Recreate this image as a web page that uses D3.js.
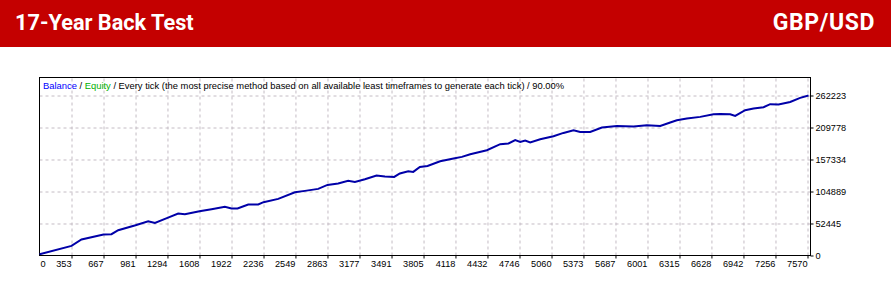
<!DOCTYPE html>
<html>
<head>
<meta charset="utf-8">
<script src="https://cdn.jsdelivr.net/npm/d3@7/dist/d3.min.js"></script>
<style>
  body { margin: 0; background: #fff; }
  svg { display: block; }
  .axis text { font-family: "Liberation Sans", Arial, sans-serif; font-size: 9.2px; fill: #000; }
  .axis .domain { display: none; }
  .axis line { stroke: #000; }
  .grid line { stroke: #c4bcc4; stroke-dasharray: 3,3; }
  .grid .domain { display: none; }
</style>
</head>
<body>
<svg id="chart" width="891" height="296"></svg>
<script>
// trade number / balance
const trades = [40, 353, 451, 667, 745, 811, 981, 1105, 1171, 1294, 1399, 1465, 1608, 1726, 1857, 1922,
  1981, 2086, 2184, 2236, 2380, 2544, 2642, 2772, 2863, 2968, 3066, 3132, 3230, 3344, 3426, 3517,
  3573, 3655, 3704, 3769, 3844, 3968, 4099, 4181, 4263, 4426, 4557, 4638, 4704, 4753, 4802, 4851,
  4949, 5079, 5177, 5276, 5341, 5439, 5554, 5701, 5864, 5995, 6126, 6224, 6289, 6387, 6518, 6648,
  6714, 6812, 6861, 6959, 7041, 7139, 7204, 7286, 7400, 7498, 7580];
const balance = [2100, 15700, 26200, 34400, 34900, 41500, 49700, 56200, 53400, 61600, 68800, 67700,
  72600, 75900, 79700, 77000, 77000, 83600, 83600, 87400, 92800, 103700, 105900, 109200, 115700,
  118000, 122300, 120600, 125000, 131100, 129500, 128800, 134400, 138200, 137000, 145200, 146800,
  154500, 159000, 161600, 166000, 172600, 182400, 183600, 189000, 186200, 188500, 185200, 190600,
  195500, 200900, 205400, 202600, 202600, 209800, 212400, 211400, 213500, 212400, 218000, 221700,
  224500, 227200, 231600, 232100, 231600, 228800, 238100, 240900, 243000, 248000, 247500, 251700,
  258300, 262223];

const xTicks = [353, 667, 981, 1294, 1608, 1922, 2236, 2549, 2863, 3177, 3491, 3805, 4118, 4432,
  4746, 5060, 5373, 5687, 6001, 6315, 6628, 6942, 7256, 7570];
const yTicks = [0, 52445, 104889, 157334, 209778, 262223];

const title = "17-Year Back Test";
const pair = "GBP/USD";
const legendParts = [
  { text: "Balance", color: "#0000ff" },
  { text: " / ", color: "#000" },
  { text: "Equity", color: "#00b000" },
  { text: " / Every tick (the most precise method based on all available least timeframes to generate each tick) / 90.00%", color: "#000" }
];

const svg = d3.select("#chart");
const plotLeft = 39.5, plotRight = 810.5, plotTop = 77.5, plotBottom = 255.5;

// header band
svg.append("rect").attr("x", 0).attr("y", 0).attr("width", 891).attr("height", 47).attr("fill", "#c40000");
svg.append("text").attr("x", 15).attr("y", 30)
  .attr("font-family", "Roboto, sans-serif").attr("font-weight", "bold").attr("font-size", 21.7)
  .attr("fill", "#fff").text(title);
svg.append("text").attr("x", 875).attr("y", 30).attr("text-anchor", "end")
  .attr("font-family", "Roboto, sans-serif").attr("font-weight", "bold").attr("font-size", 23)
  .attr("letter-spacing", 0.6)
  .attr("fill", "#fff").text(pair);

const x = d3.scaleLinear().domain([353, 7570]).range([71.5, 807.5]);
const y = d3.scaleLinear().domain([0, 262223]).range([plotBottom, 95.5]);

// grid
svg.append("g").attr("class", "grid")
  .attr("transform", `translate(0,${plotBottom})`)
  .call(d3.axisBottom(x).tickValues(xTicks).tickSize(-(plotBottom - plotTop)).tickFormat(""));
svg.append("g").attr("class", "grid")
  .attr("transform", `translate(${plotLeft},0)`)
  .call(d3.axisRight(y).tickValues(yTicks.slice(1)).tickSize(plotRight - plotLeft).tickFormat(""));

// frame
svg.append("rect").attr("x", plotLeft).attr("y", plotTop)
  .attr("width", plotRight - plotLeft).attr("height", plotBottom - plotTop)
  .attr("fill", "none").attr("stroke", "#000");

// axes
const xAxis = svg.append("g").attr("class", "axis")
  .attr("transform", `translate(0,${plotBottom})`)
  .call(d3.axisBottom(x).tickValues(xTicks).tickSize(3).tickPadding(2).tickFormat(d3.format("d")));
xAxis.selectAll(".tick text").attr("text-anchor", "end").attr("x", -0.5).attr("y", 5);
xAxis.append("text").attr("x", plotLeft + 1).attr("y", 5).attr("dy", "0.71em")
  .attr("text-anchor", "start").text("0");

svg.append("g").attr("class", "axis")
  .attr("transform", `translate(${plotRight},0)`)
  .call(d3.axisRight(y).tickValues(yTicks).tickSize(3).tickPadding(2).tickFormat(d3.format("d")));

// balance line
const line = d3.line().x((d, i) => x(trades[i])).y(d => y(d));
svg.append("path").datum(balance)
  .attr("d", line).attr("fill", "none")
  .attr("stroke", "#0000a8").attr("stroke-width", 2);

// legend
const legend = svg.append("text").attr("x", 43).attr("y", 89)
  .attr("font-family", "Liberation Sans, Arial, sans-serif").attr("font-size", 9.4)
  .attr("xml:space", "preserve");
legendParts.forEach(p => legend.append("tspan").attr("fill", p.color).text(p.text));
</script>
</body>
</html>
